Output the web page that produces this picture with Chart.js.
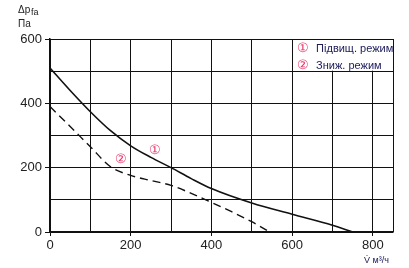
<!DOCTYPE html>
<html>
<head>
<meta charset="utf-8">
<script src="https://cdn.jsdelivr.net/npm/chart.js@4.4.1/dist/chart.umd.min.js"></script>
<style>
  html, body { margin: 0; padding: 0; background: #fff; }
  #wrap { width: 409px; height: 268px; }
</style>
</head>
<body>
<div id="wrap"><canvas id="chart" width="409" height="268"></canvas></div>
<script>
// curve data (flow m³/h, pressure Pa)
const highFlow = [0, 50, 100, 150, 200, 250, 300, 350, 400, 500, 600, 700, 750];
const highPressure = [510, 440, 374, 315, 268, 232, 200, 166, 135, 90, 55, 21, 0];
const lowFlow = [0, 50, 100, 150, 200, 250, 300, 350, 400, 450, 500, 545];
const lowPressure = [390, 328, 265, 203, 176, 160, 145, 120, 92, 63, 32, 0];
const xGrid = [0, 100, 200, 300, 400, 500, 600, 700, 800, 850];
const xTicks = [0, 200, 400, 600, 800];
const yTicks = [0, 200, 400, 600];
const legendItems = ['Підвищ. режим', 'Зниж. режим'];
const legendMarks = ['①', '②'];
// where the circled numbers sit on the curves
const markPoints = [{ x: 260, y: 255 }, { x: 175, y: 225 }];

const font = '"Liberation Sans", Arial, sans-serif';
const pink = '#e8336b';
const navy = '#1a1a5a';

const toPoints = (xs, ys) => xs.map((x, i) => ({ x, y: ys[i] }));

// extra text: axis titles, legend box, curve numbers
const decorations = {
  id: 'decorations',
  afterDraw(chart) {
    const { ctx, chartArea, scales } = chart;
    ctx.save();
    // legend box (from the 600 line to the right edge, down to the 500 line)
    const bx = scales.x.getPixelForValue(600) + 1;
    const by = chartArea.top + 1;
    const bh = scales.y.getPixelForValue(500) - by - 0.5;
    ctx.fillStyle = '#fff';
    ctx.fillRect(bx, by, chartArea.right - bx - 1, bh);
    ctx.textBaseline = 'middle';
    legendItems.forEach((label, i) => {
      const y = chartArea.top + 9 + i * 17;
      ctx.font = '13px ' + font;
      ctx.fillStyle = pink;
      ctx.fillText(legendMarks[i], bx + 4, y);
      ctx.font = '11px ' + font;
      ctx.fillStyle = navy;
      ctx.fillText(label, bx + 23, y + 1);
    });
    // circled numbers on curves
    ctx.font = '13px ' + font;
    ctx.fillStyle = pink;
    ctx.textAlign = 'center';
    markPoints.forEach((p, i) => {
      ctx.fillText(legendMarks[i], scales.x.getPixelForValue(p.x), scales.y.getPixelForValue(p.y));
    });
    // axis titles
    ctx.textAlign = 'left';
    ctx.fillStyle = '#222';
    ctx.font = '10px ' + font;
    ctx.fillText('Δp', 18, 10);
    ctx.font = '9px ' + font;
    ctx.fillText('fa', 31, 13);
    ctx.font = '10px ' + font;
    ctx.fillText('Па', 18, 24);
    ctx.fillStyle = navy;
    ctx.font = '9px ' + font;
    ctx.fillText('V̇ м³/ч', 364, 261);
    ctx.restore();
  }
};

new Chart(document.getElementById('chart'), {
  type: 'line',
  data: {
    datasets: [
      {
        label: legendItems[0],
        data: toPoints(highFlow, highPressure),
        borderColor: '#111',
        borderWidth: 1.6,
        pointRadius: 0,
        tension: 0.4,
        cubicInterpolationMode: 'monotone'
      },
      {
        label: legendItems[1],
        data: toPoints(lowFlow, lowPressure),
        borderColor: '#111',
        borderWidth: 1.4,
        borderDash: [8, 5],
        pointRadius: 0,
        tension: 0.4,
        cubicInterpolationMode: 'monotone'
      }
    ]
  },
  options: {
    responsive: false,
    animation: false,
    layout: { padding: { top: 39, right: 16, left: 0, bottom: 0 } },
    plugins: {
      legend: { display: false },
      tooltip: { enabled: false }
    },
    scales: {
      x: {
        type: 'linear',
        min: 0,
        max: 850,
        afterFit: (scale) => { scale.height = 36; },
        afterBuildTicks: (scale) => { scale.ticks = xGrid.map(v => ({ value: v })); },
        grid: {
          color: '#111',
          lineWidth: 1,
          tickLength: 4,
          tickColor: (c) => xTicks.includes(c.tick.value) ? '#111' : 'rgba(0,0,0,0)'
        },
        border: { color: '#111', width: 1.5 },
        ticks: {
          color: '#222',
          font: { family: font, size: 13 },
          padding: 2,
          maxRotation: 0,
          autoSkip: false,
          callback: (v) => xTicks.includes(v) ? v : ''
        }
      },
      y: {
        min: 0,
        max: 600,
        afterFit: (scale) => { scale.width = 50; },
        grid: {
          color: '#111',
          lineWidth: 1,
          tickLength: 5,
          tickColor: (c) => yTicks.includes(c.tick.value) ? '#111' : 'rgba(0,0,0,0)'
        },
        border: { color: '#111', width: 1.5 },
        ticks: {
          stepSize: 100,
          color: '#222',
          font: { family: font, size: 13 },
          padding: 3,
          autoSkip: false,
          callback: (v) => yTicks.includes(v) ? v : ''
        }
      }
    }
  },
  plugins: [decorations]
});
</script>
</body>
</html>
